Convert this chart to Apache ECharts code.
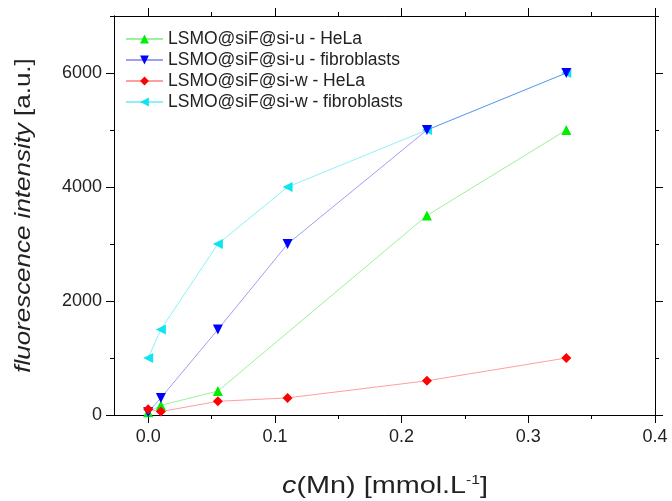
<!DOCTYPE html>
<html>
<head>
<meta charset="utf-8">
<script src="https://cdn.jsdelivr.net/npm/echarts@6/dist/echarts.min.js"></script>
<style>
  html, body { margin: 0; padding: 0; background: #fff; }
  #chart { width: 672px; height: 501px; }
</style>
</head>
<body>
<div id="chart"></div>
<script>
// Mn concentration (mmol/L) and fluorescence intensity per sample series
const uHelaX = [0, 0.01, 0.055, 0.22, 0.33];
const uHelaY = [50, 170, 420, 3500, 5000];

const uFibroX = [0, 0.01, 0.055, 0.11, 0.22, 0.33];
const uFibroY = [50, 300, 1500, 3000, 5000, 6000];

const wHelaX = [0, 0.01, 0.055, 0.11, 0.22, 0.33];
const wHelaY = [100, 60, 240, 300, 600, 1000];

const wFibroX = [0, 0.01, 0.055, 0.11, 0.22, 0.33];
const wFibroY = [1000, 1500, 3000, 4000, 5000, 6000];

const seriesNames = [
  'LSMO@siF@si-u - HeLa',
  'LSMO@siF@si-u - fibroblasts',
  'LSMO@siF@si-w - HeLa',
  'LSMO@siF@si-w - fibroblasts'
];

const xMajor = [0, 0.1, 0.2, 0.3, 0.4];
const xMinor = [0.05, 0.15, 0.25, 0.35];
const yMajor = [0, 2000, 4000, 6000];
const yMinor = [1000, 3000, 5000, 7000];

const FONT = "'Liberation Sans', Arial, sans-serif";
const zip = (xs, ys) => xs.map((x, i) => [x, ys[i]]);

const axisLine = { show: true, onZero: false, lineStyle: { color: '#000', width: 1 } };

function xAxisDef(position, values, len, labels) {
  return {
    type: 'value', min: -0.027, max: 0.4, position: position,
    axisLine: axisLine,
    splitLine: { show: false },
    axisTick: { show: true, customValues: values, length: len, inside: false, lineStyle: { color: '#000', width: 1 } },
    axisLabel: labels ? {
      show: true, customValues: values, margin: 13, fontSize: 18, color: '#222', fontFamily: FONT,
      formatter: v => v.toFixed(1)
    } : { show: false }
  };
}
function yAxisDef(position, values, len, labels) {
  return {
    type: 'value', min: 0, max: 7000, position: position,
    axisLine: axisLine,
    splitLine: { show: false },
    axisTick: { show: true, customValues: values, length: len, inside: false, lineStyle: { color: '#000', width: 1 } },
    axisLabel: labels ? {
      show: true, customValues: values, margin: 12, fontSize: 18, color: '#222', fontFamily: FONT,
      formatter: v => String(v)
    } : { show: false }
  };
}

function lineSeries(name, data, markerColor, lineColor, symbol, rotate, z) {
  return {
    name: name, type: 'line', data: data, z: z,
    xAxisIndex: 0, yAxisIndex: 0,
    symbol: symbol, symbolSize: 10, symbolRotate: rotate,
    showAllSymbol: true,
    itemStyle: { color: markerColor },
    lineStyle: { color: lineColor, width: 1 },
    emphasis: { disabled: true },
    animation: false
  };
}

const chart = echarts.init(document.getElementById('chart'), null, { renderer: 'canvas' });
chart.setOption({
  backgroundColor: '#fff',
  animation: false,
  grid: { left: 114, right: 17, top: 16, bottom: 86, containLabel: false },
  xAxis: [
    xAxisDef('bottom', xMajor, 8, true),
    xAxisDef('bottom', xMinor, 4, false),
    xAxisDef('top', xMajor, 8, false),
    xAxisDef('top', xMinor, 4, false)
  ],
  yAxis: [
    yAxisDef('left', yMajor, 8, true),
    yAxisDef('left', yMinor, 4, false),
    yAxisDef('right', yMajor, 8, false),
    yAxisDef('right', yMinor, 4, false)
  ],
  legend: {
    orient: 'vertical', left: 125, top: 30, padding: 0,
    itemWidth: 37, itemHeight: 11, itemGap: 3,
    textStyle: { fontSize: 17.5, color: '#222', fontFamily: FONT },
    data: seriesNames
  },
  series: [
    lineSeries(seriesNames[0], zip(uHelaX, uHelaY), '#00ee00', 'rgba(0,220,0,0.4)', 'triangle', 0, 3),
    lineSeries(seriesNames[1], zip(uFibroX, uFibroY), '#0000ff', 'rgba(40,40,230,0.45)', 'triangle', 180, 4),
    lineSeries(seriesNames[2], zip(wHelaX, wHelaY), '#ff0000', 'rgba(255,40,40,0.45)', 'diamond', 0, 5),
    lineSeries(seriesNames[3], zip(wFibroX, wFibroY), '#10e4f0', 'rgba(0,225,240,0.45)', 'triangle', 90, 2)
  ],
  graphic: [
    {
      type: 'text', x: 385, y: 486, scaleX: 1.2, scaleY: 1,
      style: {
        text: '{i|c}(Mn) [mmol.L{s|-1}]',
        fontSize: 24, fontFamily: FONT, fill: '#222',
        align: 'center', verticalAlign: 'middle',
        rich: {
          i: { fontSize: 24, fontStyle: 'italic', fontFamily: FONT, fill: '#222' },
          s: { fontSize: 13, fontFamily: FONT, fill: '#222', verticalAlign: 'top' }
        }
      }
    },
    {
      type: 'text', x: 24, y: 215.5, rotation: Math.PI / 2, scaleX: 1.18, scaleY: 1,
      style: {
        text: '{i|fluorescence intensity} [a.u.]',
        fontSize: 22, fontFamily: FONT, fill: '#222',
        align: 'center', verticalAlign: 'middle',
        rich: {
          i: { fontSize: 22, fontStyle: 'italic', fontFamily: FONT, fill: '#222' }
        }
      }
    }
  ]
});
</script>
</body>
</html>
